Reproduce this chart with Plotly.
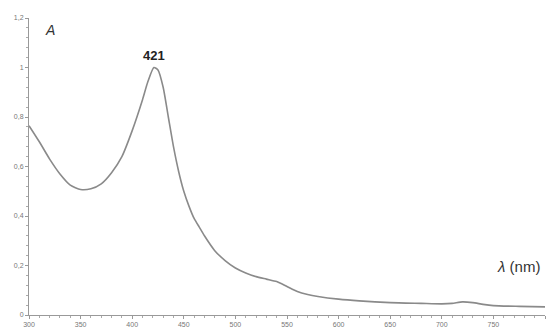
import plotly.graph_objects as go

wavelength = [300, 310, 320, 330, 340, 350, 360, 370, 380, 390, 400, 410, 415, 421, 425, 430, 435, 440,
              445, 450, 455, 460, 465, 470, 480, 490, 500, 510, 520, 530, 540, 550, 560, 570, 580,
              600, 620, 650, 680, 700, 710, 720, 730, 740, 750, 775, 800]
absorbance = [0.765, 0.70, 0.63, 0.57, 0.525, 0.507, 0.51, 0.53, 0.575, 0.64, 0.745, 0.87, 0.94, 1.0,
              0.99, 0.92, 0.80, 0.68, 0.58, 0.50, 0.44, 0.39, 0.355, 0.32, 0.26, 0.22, 0.19, 0.17,
              0.155, 0.145, 0.135, 0.115, 0.095, 0.083, 0.075, 0.064, 0.057, 0.050, 0.047, 0.045,
              0.047, 0.053, 0.050, 0.043, 0.038, 0.035, 0.033]
peak_x = 421
peak_y = 1.0
x_ticks = [300, 350, 400, 450, 500, 550, 600, 650, 700, 750, 800]
y_ticks = [0, 0.2, 0.4, 0.6, 0.8, 1.0, 1.2]

fig = go.Figure()
fig.add_trace(go.Scatter(x=wavelength, y=absorbance, mode="lines",
                         line=dict(color="#8a8a8a", width=1.6, shape="spline", smoothing=0.6),
                         hoverinfo="skip", showlegend=False))

fig.add_annotation(x=peak_x, y=peak_y, text="<b>421</b>", showarrow=False, yshift=12,
                   font=dict(family="Liberation Sans", size=13, color="#222"))
fig.add_annotation(xref="paper", yref="paper", x=0.027, y=0.96, text="<i>A</i>", showarrow=False,
                   xanchor="left", yanchor="middle",
                   font=dict(family="Liberation Sans", size=14, color="#333"))
fig.add_annotation(xref="paper", yref="paper", x=0.995, y=0.162, text="<i>λ</i> (nm)", showarrow=False,
                   xanchor="right", yanchor="middle",
                   font=dict(family="Liberation Sans", size=15, color="#333"))

axis_common = dict(showgrid=False, zeroline=False, showline=True, linecolor="#999", linewidth=1,
                   ticks="outside", ticklen=3, tickcolor="#999", automargin=False,
                   tickfont=dict(family="Liberation Sans", size=7, color="#777"))
fig.update_xaxes(range=[300, 800], tickvals=x_ticks,
                 minor=dict(dtick=10, ticks="outside", ticklen=2, tickcolor="#aaa"), **axis_common)
fig.update_yaxes(range=[0, 1.2], tickvals=y_ticks,
                 minor=dict(dtick=0.04, ticks="outside", ticklen=2, tickcolor="#aaa"), **axis_common)

fig.update_layout(width=548, height=329, margin=dict(l=29, r=3, t=18, b=14),
                  plot_bgcolor="white", paper_bgcolor="white", separators=", ")
fig.write_html("out.html", config={"displayModeBar": False},
               post_script="document.body.style.margin='0';")
